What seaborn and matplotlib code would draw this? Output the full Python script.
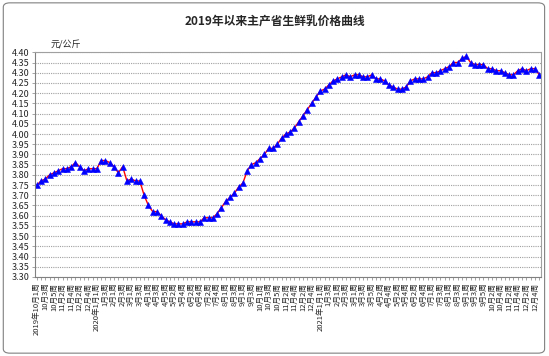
import numpy as np
import pandas as pd
import seaborn as sns
import matplotlib.pyplot as plt
from matplotlib.patches import FancyBboxPatch

# weekly price, yuan/kg
prices_2019 = [3.75, 3.77, 3.78, 3.80, 3.81, 3.82, 3.83, 3.83, 3.84, 3.86, 3.84, 3.82, 3.83, 3.83]
prices_2020 = [3.83, 3.87, 3.87, 3.86, 3.84, 3.81, 3.84, 3.77, 3.78, 3.77, 3.77, 3.70, 3.65,
               3.62, 3.62, 3.60, 3.58, 3.57, 3.56, 3.56, 3.56, 3.57, 3.57, 3.57, 3.57, 3.59,
               3.59, 3.59, 3.61, 3.64, 3.67, 3.69, 3.71, 3.74, 3.76, 3.82, 3.85, 3.86, 3.88,
               3.90, 3.93, 3.93, 3.95, 3.98, 4.00, 4.01, 4.03, 4.06, 4.09, 4.12, 4.15, 4.18]
prices_2021 = [4.21, 4.22, 4.24, 4.26, 4.27, 4.28, 4.29, 4.28, 4.29, 4.29, 4.28, 4.28, 4.29,
               4.27, 4.27, 4.26, 4.24, 4.23, 4.22, 4.22, 4.23, 4.26, 4.27, 4.27, 4.27, 4.28,
               4.30, 4.30, 4.31, 4.32, 4.33, 4.35, 4.35, 4.37, 4.38, 4.35, 4.34, 4.34, 4.34,
               4.32, 4.32, 4.31, 4.31, 4.30, 4.29, 4.29, 4.31, 4.32, 4.31, 4.32, 4.32, 4.29]

# (year, month, number of weeks)
months_2019 = [(2019, 10, 5), (2019, 11, 4), (2019, 12, 5)]
months_2020 = [(2020, m, w) for m, w in zip(range(1, 13), [4, 4, 4, 5, 4, 4, 5, 4, 4, 5, 4, 5])]
months_2021 = [(2021, m, w) for m, w in zip(range(1, 13), [4, 4, 5, 4, 4, 5, 4, 4, 5, 4, 4, 5])]

labels = []
last_year = None
for year, month, nweeks in months_2019 + months_2020 + months_2021:
    for w in range(1, nweeks + 1):
        if year != last_year:
            labels.append(f"{year}年{month}月{w}周")
            last_year = year
        else:
            labels.append(f"{month}月{w}周")

df = pd.DataFrame({'week': np.arange(len(labels)),
                   'price': prices_2019 + prices_2020 + prices_2021})

sns.set_style("white")
plt.rcParams['font.family'] = ['Noto Sans CJK SC', 'DejaVu Sans']

fig = plt.figure(figsize=(5.49, 3.56), dpi=100)
ax = fig.add_axes([0.0638, 0.222, 0.9216, 0.631])

# rounded chart border
fig.patches.append(FancyBboxPatch((0.006, 0.008), 0.986, 0.984,
                                  boxstyle="round,pad=0,rounding_size=0.012",
                                  transform=fig.transFigure, fill=False,
                                  edgecolor='#808080', lw=0.8))

sns.lineplot(data=df, x='week', y='price', ax=ax, color='red', lw=1.0,
             marker='^', markersize=4.5, markerfacecolor='blue',
             markeredgecolor='blue', markeredgewidth=0.4)

ax.set_ylim(3.30, 4.40)
ax.set_yticks(np.arange(3.30, 4.401, 0.05))
ax.set_yticklabels([f"{v:.2f}" for v in np.arange(3.30, 4.401, 0.05)], fontsize=6.5)
ax.yaxis.grid(True, color='#a0a0a0', linestyle=(0, (1, 1)), lw=0.8)
ax.set_axisbelow(True)

ax.set_xlim(-0.4, len(labels) - 0.6)
ax.set_xticks(df['week'])
ax.set_xticklabels([lab if i % 2 == 0 else '' for i, lab in enumerate(labels)],
                   rotation=90, fontsize=5.5)
ax.tick_params(axis='x', length=2, width=0.5, color='#808080', pad=2)
ax.tick_params(axis='y', length=2, width=0.5, color='#808080', pad=2, left=True)
ax.tick_params(axis='x', bottom=True)

for side in ['left', 'bottom']:
    ax.spines[side].set_color('#808080')
    ax.spines[side].set_linewidth(0.8)
for side in ['top', 'right']:
    ax.spines[side].set_color('#a0a0a0')
    ax.spines[side].set_linestyle((0, (1, 1)))
    ax.spines[side].set_linewidth(0.8)

ax.set_xlabel('')
ax.set_ylabel('')

fig.text(0.5, 0.938, '2019年以来主产省生鲜乳价格曲线', ha='center', va='center',
         fontsize=8.5, fontweight='bold')
fig.text(0.093, 0.875, '元/公斤', ha='left', va='center', fontsize=6.5)

fig.savefig('out.png', dpi=100)
